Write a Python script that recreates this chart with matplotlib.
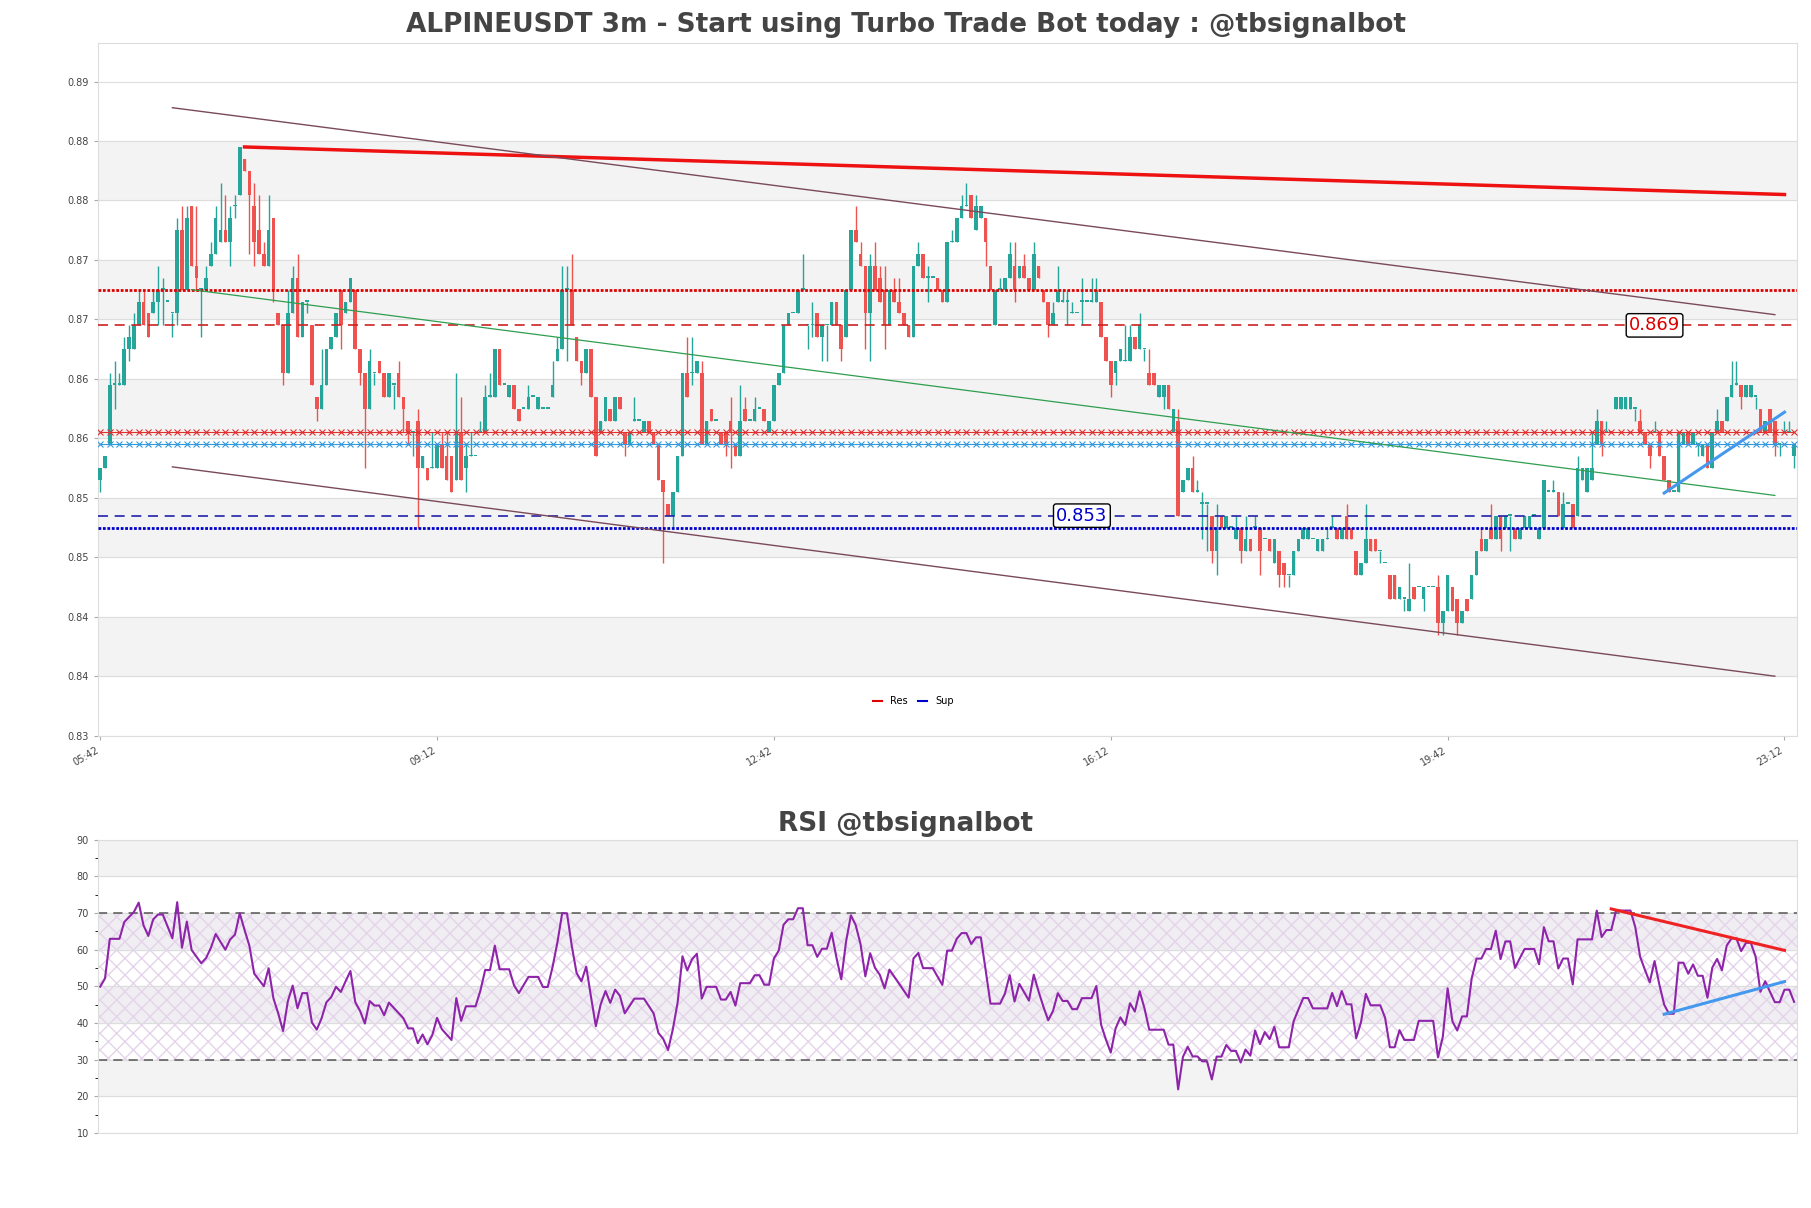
import re
import numpy as np
import pandas as pd
import matplotlib
matplotlib.use("Agg")
import matplotlib.pyplot as plt
from matplotlib.lines import Line2D

# ---- data: candles as "open-close^high_low" in thousandths ----
seg1 = """856-857_855 857-858 859-864^865 864^866_862 864^865 864-867^868 867-868^869_866 867-869^870 869-871^872 871-869^872 870-868 870-871^872 871-872^874_869 872^873_869 871 870_868 870-877^878_869 877-872^879 872-878^879 879-874 874-873^879_872 872_868 872-873^874 874-875^876 875-878^879 876-877^881 877-876^880 876-878^879_874 879^880_878 880-884 883-882 882-880^882_875 879-876^881_874 877-875^880 875-874^876_874 874-877^880 878-872^878_871 870-869 869-865_864 865-870^872 870-873^874 873-868^875_868 868-871 871^871_870 869-864^869 863-862_861 862-864^867 864-867 867-868 868-870^870 872-869^872_867 870-871 871-873^873 872-867^872 867-865_864 865-862_857 862-866^867 865_864 866-865^866 865-863 863-865 864^864_862 865-863^866 863-862_860 861-860_859 860_858 861-857^862_852 857-858 857-856 857^860 857-859 859-857^860 858-856^860 858-855 856-860^865 860-856^863 857-858^859_855 858^860 858^858 860^861 860-863^864 863^865 863-867 867-864 864 863-864 864-862 862-861"""
seg2 = """862 862-863^864 863 862-863 862 862 863-864^866 866-867^868 867-872^874 872^874_866 872-869^875 868-866 866-865_864 865-867 867-863 863-858 860-861 861-863 862-861 861-863 863-862 860-859_858 859-860 861^863 861 860-861 861-860 860-859 859-856 856-855_849 854-853 853-855_852 855-858 858-865 865-863^868 865^868_864 865-866 865-859^866 859-861 862-861 861 860-859 860-859_858 861-860^863_857 859-858 858-861^864 862-861^863 861 861-862^863 862 862-861 860-861 861-864 864-865 865-869 869-870 870 870-872 872^875 869_867 869^871_868 870-868 868-869_866 869_866 869-871 871-869 869-867_866 868-872 872-877 877-876^879 875-874^876 874-870_867 870-874^875_866 874-872^876 873-871^874 872-869^874_867 869-872 872-871^873 871-870^873 870-869 869-868 868-874 874-875^876 875-873^875 873^874_871 873 873-872 872-871"""
seg3 = """871-876 876^877 876-878 878-879^880 879^881 880-878 877-879^880 878-879 878-876_874 874-872 869-872 872^873 872-873 873-875^876 874-872^876_871 873-874 874-873^875 873-872 872-875^876 874-873 872-871^872 871-869_868 869-870^871 871-872^874 871^872 871^872_869 870^871 870 871^873_869 871 871^873 871-872^873 871-868 868-866 866-864_863 865-866_864 866-867 866^869 866-868^869 868-867 867-869^870 867_866 865-864^867 865-864 863-864 863-864_862 864-862 860-862 861-853^862 855-856 856-857 857-855^858 855^856 854^855_851 854_850 853-850_849 850-852^854_848 853-852 852-853 852 851-852^853 852-850_849 850-851^853 851-850 852^853 852-850_848 851 851-850 849-851 850-848_847 849-848_847 848_847 848-850 850-851 851-852 851-852 851 850-851 850-851 851^852 852^853 852-851 851-852 853-851^854 852-851 850-848 848-849 849-851^854 851-850"""
seg4 = """851-850 850_849 849 848-846 848-846 846-847 846_845 845-846^849 847-846 847 846-847_845 847 847 847-844^848_843 844-845_843 845-848^848 847-845 846-844_843 844-845 846-845 846-848 848-850 851-850^852 850-851 852-851^854 851-853 853-851_850 852-853 853_850 852-851 851-852 852-853 852-853 853 851-852 852-856 855 855^856 855-853 852-854^855 854 854-852 853-857^858 856-857 855-857 856-857^860 859-861^862 861-859_858 860^861 860 862-863 862-863 862-863 862-863 862_861 861-860^862 860-859 859-858_857 860^861 860-858_858 858-856 856-855 855 855-860 859-860 860-859 859-860 859_858 858-859 859-857 857-860 860-861^862 861-860 861-863 863-864^866 864^866 864-863_862 863-864 863-864 863_862 862-860 860-861 862-860 861-859_858 859_858 860^861 860^861 858-859_857"""

time_labels = ["05:42", "09:12", "12:42", "16:12", "19:42", "23:12"]
res_levels = [0.872, 0.869]
sup_levels = [0.852, 0.853]
x_res_level = 0.860
x_sup_level = 0.859
ytick_labels = ["0.83", "0.84", "0.84", "0.85", "0.85", "0.86", "0.86", "0.87", "0.87", "0.88", "0.88", "0.89"]
# trend lines (candle index, price)
res_trend = [(30, 0.884), (350, 0.880)]
chan_up = [(15, 0.8873), (348, 0.8699)]
chan_dn = [(15, 0.8571), (348, 0.8395)]
green_tl = [(19, 0.8720), (348, 0.8547)]
blue_tl = [(325, 0.8549), (350, 0.8617)]
rsi_red = [(314, 71.1), (350, 59.8)]
rsi_blue = [(325, 42.4), (350, 51.3)]
# RSI state carried in from before the window (avg gain, avg loss per bar)
rsi_seed = (0.00080, 0.00088)

tok = re.compile(r"^(\d+)(?:-(\d+))?(?:\^(\d+))?(?:_(\d+))?$")
O, C, H, L = [], [], [], []
for seg in (seg1, seg2, seg3, seg4):
    for t in seg.split():
        m = tok.match(t)
        o = int(m.group(1)); c = int(m.group(2)) if m.group(2) else o
        h = int(m.group(3)) if m.group(3) else max(o, c)
        l = int(m.group(4)) if m.group(4) else min(o, c)
        O.append(o / 1000); C.append(c / 1000)
        H.append(max(h, o, c) / 1000); L.append(min(l, o, c) / 1000)
O, C, H, L = map(np.array, (O, C, H, L))
N = len(C)
idx = np.arange(N)

# RSI 14 (Wilder)
ag, al = rsi_seed
rsi = []
prev = O[0]
for c in C:
    ch = c - prev
    prev = c
    ag = (ag * 13 + max(ch, 0)) / 14
    al = (al * 13 + max(-ch, 0)) / 14
    rsi.append(100 - 100 / (1 + ag / al) if al > 0 else 100)
rsi = np.array(rsi)

GREEN, RED = "#26a69a", "#ef5350"
fig = plt.figure(figsize=(18.11, 12.08), dpi=100)
ax = fig.add_axes([0.054, 0.391, 0.938, 0.573])
ax2 = fig.add_axes([0.054, 0.062, 0.938, 0.243])
tx = (0.5 - 0.054) / 0.938

yt = [0.8345 + 0.005 * k for k in range(12)]
ymin, ymax = 0.8345, 0.8927
for k in range(len(yt) - 1):
    if k % 2 == 1:
        ax.axhspan(yt[k], yt[k + 1], color="#f3f3f3", zorder=0)
for v in yt:
    ax.axhline(v, color="#dddddd", lw=0.8, zorder=0.5)

cols = np.where(C >= O, GREEN, RED)
ax.vlines(idx, L, H, colors=cols, lw=1.0, zorder=2)
bh = np.abs(C - O)
bh = np.where(bh < 0.00012, 0.00012, bh)
ax.bar(idx, bh, bottom=np.minimum(O, C), width=0.75, color=cols, zorder=3)

ax.axhline(res_levels[0], color="#dd0000", lw=2, ls=(0, (1, 0.6)), zorder=4)
ax.axhline(res_levels[1], color="#cc2222", lw=1.2, ls=(0, (6, 4)), zorder=4)
ax.axhline(sup_levels[0], color="#0000cc", lw=2, ls=(0, (1, 0.6)), zorder=4)
ax.axhline(sup_levels[1], color="#2222aa", lw=1.2, ls=(0, (6, 4)), zorder=4)
xm = np.arange(0, N, 2)
ax.plot(xm, np.full(len(xm), x_res_level), color="#e03030", lw=0.8, marker="x", ms=4, mew=0.8, zorder=4)
ax.plot(xm, np.full(len(xm), x_sup_level), color="#3399dd", lw=0.8, marker="x", ms=4, mew=0.8, zorder=4)

def seg_line(a, pts, **kw):
    a.plot([p[0] for p in pts], [p[1] for p in pts], **kw)

seg_line(ax, res_trend, color="#ee1111", lw=2.5, zorder=5)
seg_line(ax, chan_up, color="#7a4a5a", lw=1.0, zorder=5)
seg_line(ax, chan_dn, color="#7a4a5a", lw=1.0, zorder=5)
seg_line(ax, green_tl, color="#2e9e4e", lw=0.9, zorder=5)
seg_line(ax, blue_tl, color="#4499ee", lw=2.2, zorder=5)

ax.text(323, res_levels[1], f"{res_levels[1]:.3f}", color="#dd0000", fontsize=13, ha="center", va="center",
        bbox=dict(boxstyle="round,pad=0.15", fc="white", ec="black", lw=1), zorder=6)
ax.text(204, sup_levels[1], f"{sup_levels[1]:.3f}", color="#0000cc", fontsize=13, ha="center", va="center",
        bbox=dict(boxstyle="round,pad=0.15", fc="white", ec="black", lw=1), zorder=6)

ax.legend(handles=[Line2D([], [], color="#dd0000", lw=1.5), Line2D([], [], color="#0000cc", lw=1.5)],
          labels=["Res", "Sup"], loc="lower center", bbox_to_anchor=(0.48, 0.03), ncol=2, frameon=False,
          fontsize=7, handlelength=1, columnspacing=1)

ax.set_xlim(-0.5, N - 0.5)
ax.set_ylim(ymin, ymax)
ax.set_yticks(yt)
ax.set_yticklabels(ytick_labels, fontsize=7, color="#444444")
tpos = [70 * k for k in range(len(time_labels))]
ax.set_xticks(tpos)
ax.set_xticklabels(time_labels, rotation=30, ha="right", fontsize=7, color="#444444")
ax.set_title("ALPINEUSDT 3m - Start using Turbo Trade Bot today : @tbsignalbot", fontsize=19,
             fontweight="bold", color="#444444", pad=8, x=tx)

# RSI panel
bands = [(80, 90, "#f3f3f3"), (60, 70, "#f0eef2"), (40, 50, "#f0eef2"), (20, 30, "#f3f3f3")]
for a, b, c in bands:
    ax2.axhspan(a, b, color=c, zorder=0)
ax2.axhspan(30, 70, facecolor="none", edgecolor="#e4d4ea", hatch="xx", lw=0, zorder=0.3)
for v in range(10, 100, 10):
    ax2.axhline(v, color="#dddddd", lw=0.8, zorder=0.5)
ax2.axhline(70, color="#555555", lw=1.1, ls=(0, (6, 4)), zorder=2)
ax2.axhline(30, color="#555555", lw=1.1, ls=(0, (6, 4)), zorder=2)
ax2.plot(idx, rsi, color="#8e24aa", lw=1.5, zorder=3)
seg_line(ax2, rsi_red, color="#ee2222", lw=2.2, zorder=4)
seg_line(ax2, rsi_blue, color="#4499ee", lw=2.2, zorder=4)
ax2.set_xlim(-0.5, N - 0.5)
ax2.set_ylim(10, 90)
ax2.set_yticks(range(10, 100, 10))
ax2.set_yticks(range(15, 90, 10), minor=True)
ax2.tick_params(axis="y", labelsize=7, labelcolor="#444444", color="#888888")
ax2.set_xticks([])
ax2.set_title("RSI @tbsignalbot", fontsize=19, fontweight="bold", color="#444444", pad=6, x=tx)

for a in (ax, ax2):
    for s in a.spines.values():
        s.set_color("#dddddd")
    a.tick_params(axis="both", color="#aaaaaa", length=3)

fig.savefig("out.png", dpi=100)
